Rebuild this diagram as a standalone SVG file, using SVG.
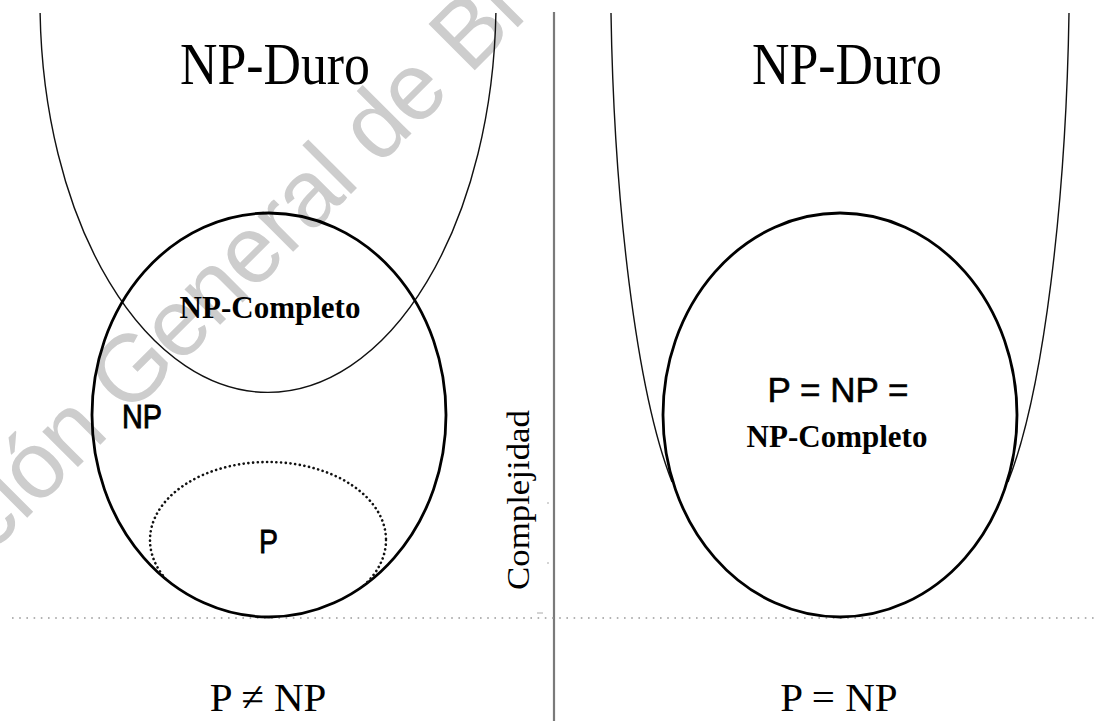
<svg xmlns="http://www.w3.org/2000/svg" width="1095" height="721" viewBox="0 0 1095 721">
  <style>
    .thin { fill: none; stroke: #111; stroke-width: 1.4; }
    .thick { fill: none; stroke: #000; stroke-width: 2.8; }
    .dots { fill: none; stroke: #111; stroke-width: 2.6; stroke-dasharray: 0.1 4.6; stroke-linecap: round; }
    .serif { font-family: "Liberation Serif", "Times New Roman", serif; fill: #000; }
    .sans { font-family: "Liberation Sans", Arial, sans-serif; fill: #000; }
    .bold { font-weight: bold; }
    .mid { text-anchor: middle; }
    .wm { font-family: "Liberation Sans", Arial, sans-serif; fill: #cdcdcd; font-size: 95px; letter-spacing: -1.2px; }
  </style>
  <defs>
    <clipPath id="clipNP">
      <ellipse cx="269" cy="415" rx="177" ry="202"/>
    </clipPath>
  </defs>
  <rect width="1095" height="721" fill="#fff"/>

  <g id="watermark">
    <text class="wm" x="-10" y="555" transform="rotate(-45 -10 555)">ción General de Bi</text>
  </g>

  <g id="axes">
    <line x1="554" y1="12" x2="554" y2="721" stroke="#7a7a7a" stroke-width="2.2"/>
    <line x1="12" y1="618" x2="1095" y2="618" stroke="#9a9a9a" stroke-width="1.6" stroke-dasharray="1.6 5.6"/>
    <line x1="547" y1="503" x2="549" y2="503" stroke="#aaa" stroke-width="1"/>
    <line x1="547" y1="563" x2="549" y2="563" stroke="#aaa" stroke-width="1"/>
    <line x1="537" y1="613" x2="543" y2="613" stroke="#aaa" stroke-width="1"/>
    <text class="serif" x="0" y="0" font-size="32" transform="translate(529 590) rotate(-90)" textLength="180" lengthAdjust="spacingAndGlyphs">Complejidad</text>
  </g>

  <!-- Left panel: P != NP -->
  <g id="left-np-duro">
    <path class="thin" d="M 40.1 13 A 228 391 0 0 0 495.9 13"/>
    <text class="serif mid" x="275" y="84" font-size="60" textLength="190" lengthAdjust="spacingAndGlyphs">NP-Duro</text>
  </g>
  <g id="left-np">
    <ellipse class="thick" cx="269" cy="415" rx="177" ry="202"/>
    <text class="sans" x="122" y="428" font-size="34" stroke="#000" stroke-width="0.9" textLength="40" lengthAdjust="spacingAndGlyphs">NP</text>
  </g>
  <g id="left-np-completo">
    <text class="serif bold mid" x="270" y="318" font-size="31">NP-Completo</text>
  </g>
  <g id="left-p">
    <ellipse class="dots" cx="268" cy="540" rx="118" ry="78" clip-path="url(#clipNP)"/>
    <text class="sans" x="259" y="553" font-size="34" stroke="#000" stroke-width="0.8" textLength="19" lengthAdjust="spacingAndGlyphs">P</text>
  </g>
  <g id="left-caption">
    <text class="serif mid" x="268" y="711" font-size="41">P ≠ NP</text>
  </g>

  <!-- Right panel: P = NP -->
  <g id="right-np-duro">
    <path class="thin" d="M 611 13 C 614 200 636 390 672 482"/>
    <path class="thin" d="M 1069 13 C 1066 200 1044 390 1008 482"/>
    <text class="serif mid" x="847" y="84" font-size="60" textLength="190" lengthAdjust="spacingAndGlyphs">NP-Duro</text>
  </g>
  <g id="right-np">
    <ellipse class="thick" cx="840" cy="415" rx="177" ry="202"/>
    <text class="sans mid" x="838" y="402" font-size="35" stroke="#000" stroke-width="0.6">P = NP =</text>
    <text class="serif bold mid" x="837" y="447" font-size="31">NP-Completo</text>
  </g>
  <g id="right-caption">
    <text class="serif mid" x="839" y="711" font-size="41">P = NP</text>
  </g>
</svg>
